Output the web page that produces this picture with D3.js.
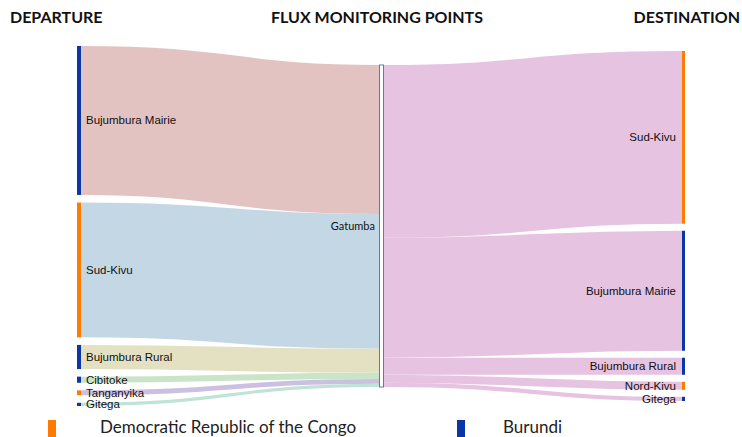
<!DOCTYPE html>
<html>
<head>
<meta charset="utf-8">
<script src="https://cdn.jsdelivr.net/npm/d3@7"></script>
<style>
  body { margin: 0; background: #fff; }
  svg { display: block; }
  .hdr { font-family: Lato, "Open Sans", sans-serif; font-weight: bold; font-size: 16px; fill: #111; }
  .lbl { font-family: "Liberation Sans", Arial, sans-serif; font-size: 11.5px; fill: #111; }
  .lgd { font-family: Lato, "Open Sans", sans-serif; font-size: 17px; fill: #222; }
</style>
</head>
<body>
<div id="chart"></div>
<script>
// share of flows (%)
var departures = ["Bujumbura Mairie", "Sud-Kivu", "Bujumbura Rural", "Cibitoke", "Tanganyika", "Gitega"];
var departureValues = [46.3, 41.9, 7.5, 1.9, 1.5, 1.0];
var departureCountry = ["BI", "CD", "BI", "BI", "CD", "BI"];

var destinations = ["Sud-Kivu", "Bujumbura Mairie", "Bujumbura Rural", "Nord-Kivu", "Gitega"];
var destinationValues = [53.7, 37.3, 5.3, 2.5, 1.3];
var destinationCountry = ["CD", "BI", "BI", "CD", "BI"];

var monitoringPoint = "Gatumba";

var countries = ["CD", "BI"];
var countryNames = ["Democratic Republic of the Congo", "Burundi"];
var countryColors = ["#ff7a00", "#0a37a5"];

var inLinkColors = ["#e3c3c2", "#c4d7e4", "#e4e1c2", "#c9e4c6", "#cbbfe2", "#bfe4d6"];
var outLinkColor = "#e6c3e0";

var width = 742, height = 437;
var svg = d3.select("#chart").append("svg")
  .attr("width", width).attr("height", height);

var colColor = d3.scaleOrdinal().domain(countries).range(countryColors);

var total = d3.sum(departureValues);
var ky = d3.scaleLinear().domain([0, total]).range([0, 322]);
var centerY = 226;
var nodeW = 4;
var xLeft = 77, xMid = 379, xRight = 682;

// stack a column of nodes around the vertical center
function stackColumn(values, gap) {
  var h = d3.sum(values, function(v) { return ky(v); }) + gap * (values.length - 1);
  var y = centerY - h / 2;
  return values.map(function(v) {
    var n = { y0: y, y1: y + ky(v) };
    y = n.y1 + gap;
    return n;
  });
}

var leftNodes = stackColumn(departureValues, 7.6);
var rightNodes = stackColumn(destinationValues, 7);
var midNode = stackColumn([total], 0)[0];

var link = d3.linkHorizontal().x(function(d) { return d[0]; }).y(function(d) { return d[1]; });

// incoming links
var yIn = midNode.y0;
var g = svg.append("g");
departureValues.forEach(function(v, i) {
  var t = ky(v);
  var sy = (leftNodes[i].y0 + leftNodes[i].y1) / 2;
  var ty = yIn + t / 2;
  yIn += t;
  g.append("path")
    .attr("d", link({ source: [xLeft + nodeW, sy], target: [xMid, ty] }))
    .attr("fill", "none")
    .attr("stroke", inLinkColors[i])
    .attr("stroke-width", Math.max(t, 1));
});

// outgoing links
var yOut = midNode.y0;
destinationValues.forEach(function(v, i) {
  var t = ky(v);
  var sy = yOut + t / 2;
  var ty = (rightNodes[i].y0 + rightNodes[i].y1) / 2;
  yOut += t;
  g.append("path")
    .attr("d", link({ source: [xMid + nodeW, sy], target: [xRight, ty] }))
    .attr("fill", "none")
    .attr("stroke", outLinkColor)
    .attr("stroke-width", Math.max(t, 1));
});

// nodes
svg.append("g").selectAll("rect").data(leftNodes).enter().append("rect")
  .attr("x", xLeft).attr("y", function(d) { return d.y0; })
  .attr("width", nodeW).attr("height", function(d) { return Math.max(d.y1 - d.y0, 3); })
  .attr("fill", function(d, i) { return colColor(departureCountry[i]); });

svg.append("g").selectAll("rect").data(rightNodes).enter().append("rect")
  .attr("x", xRight).attr("y", function(d) { return d.y0; })
  .attr("width", nodeW - 1).attr("height", function(d) { return Math.max(d.y1 - d.y0, 3); })
  .attr("fill", function(d, i) { return colColor(destinationCountry[i]); });

svg.append("rect")
  .attr("x", xMid + 0.5).attr("y", midNode.y0)
  .attr("width", nodeW).attr("height", midNode.y1 - midNode.y0)
  .attr("fill", "#fff").attr("stroke", "#5b78c4").attr("stroke-width", 1);

// node labels
svg.append("g").selectAll("text").data(leftNodes).enter().append("text")
  .attr("class", "lbl")
  .attr("x", xLeft + 9)
  .attr("y", function(d) { return (d.y0 + d.y1) / 2; })
  .attr("dy", "0.35em")
  .text(function(d, i) { return departures[i]; });

svg.append("g").selectAll("text").data(rightNodes).enter().append("text")
  .attr("class", "lbl")
  .attr("x", xRight - 6)
  .attr("y", function(d) { return (d.y0 + d.y1) / 2; })
  .attr("dy", "0.35em")
  .attr("text-anchor", "end")
  .text(function(d, i) { return destinations[i]; });

svg.append("text")
  .attr("class", "lbl")
  .style("font-family", "Lato, 'Open Sans', sans-serif")
  .style("font-size", "11px")
  .attr("x", xMid - 4)
  .attr("y", (midNode.y0 + midNode.y1) / 2)
  .attr("dy", "0.35em")
  .attr("text-anchor", "end")
  .text(monitoringPoint);

// column headers
svg.append("text").attr("class", "hdr").attr("x", 10).attr("y", 23).text("DEPARTURE");
svg.append("text").attr("class", "hdr").attr("x", 377).attr("y", 23)
  .attr("text-anchor", "middle").text("FLUX MONITORING POINTS");
svg.append("text").attr("class", "hdr").attr("x", 740).attr("y", 23)
  .attr("text-anchor", "end").text("DESTINATION");

// legend
var legendX = [48, 457];
var legend = svg.append("g").selectAll("g").data(countries).enter().append("g")
  .attr("transform", function(d, i) { return "translate(" + legendX[i] + ",420)"; });
legend.append("rect")
  .attr("width", 8).attr("height", 17)
  .attr("fill", function(d) { return colColor(d); });
legend.append("text")
  .attr("class", "lgd")
  .attr("x", function(d, i) { return i == 0 ? 52 : 46; })
  .attr("y", 13)
  .text(function(d, i) { return countryNames[i]; });
</script>
</body>
</html>
